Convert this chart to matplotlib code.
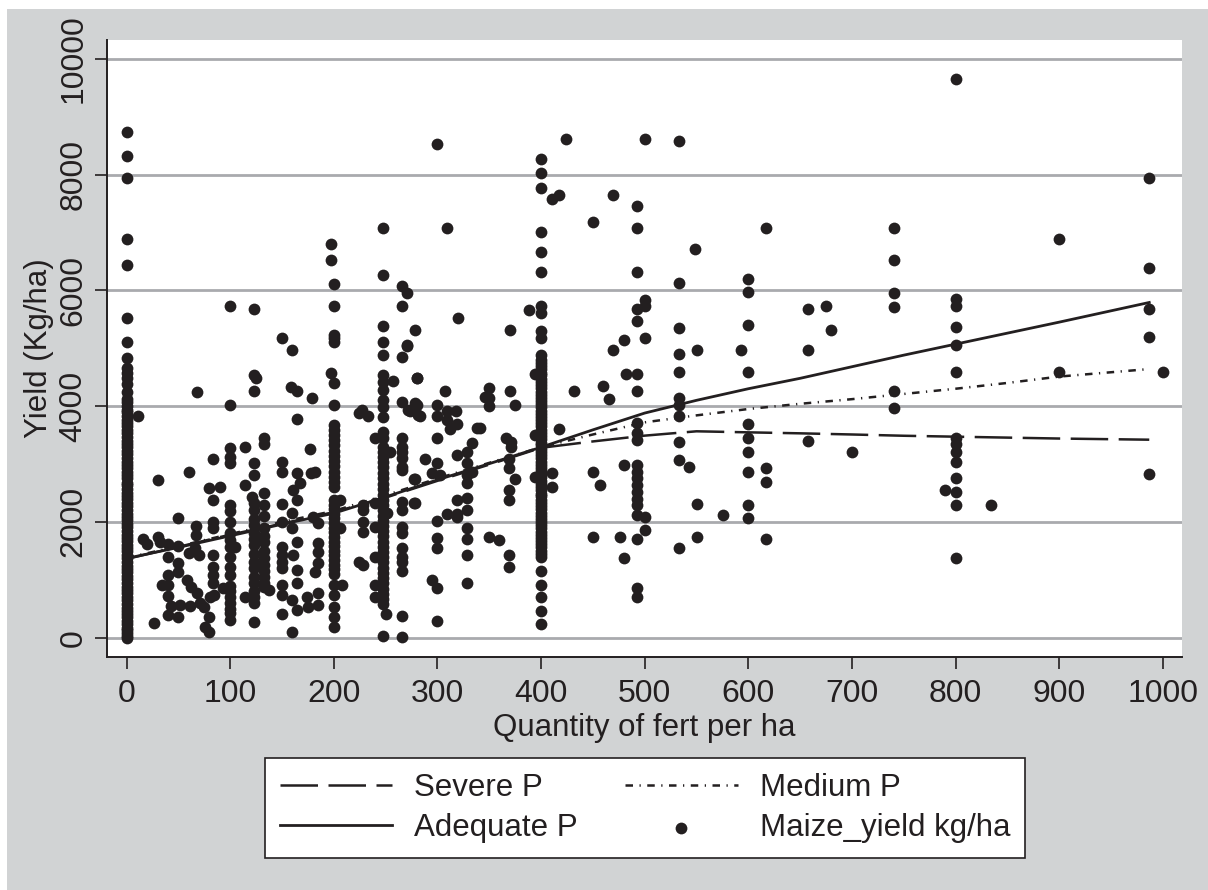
import matplotlib
matplotlib.use('Agg')
import matplotlib.pyplot as plt
from matplotlib.patches import Rectangle

plt.rcParams['font.family'] = ['Liberation Sans', 'DejaVu Sans']

INK = '#231f20'
GRID = '#a9aaae'
PANEL = '#d1d3d4'

# fitted curves
curve_x = [0, 50, 100, 150, 200, 250, 300, 350, 400, 450, 500, 550, 600, 650, 700, 750, 800, 850, 900, 987]
severe_p = [1360, 1570, 1780, 1970, 2170, 2420, 2710, 2990, 3280, 3390, 3490, 3565, 3547, 3530, 3510, 3488, 3472, 3456, 3440, 3420]
medium_p = [1380, 1580, 1790, 2000, 2190, 2460, 2750, 3020, 3290, 3510, 3720, 3840, 3950, 4040, 4120, 4210, 4300, 4400, 4510, 4640]
adequate_p = [1370, 1560, 1760, 1960, 2150, 2432, 2727, 3006, 3290, 3590, 3880, 4100, 4300, 4480, 4680, 4880, 5070, 5260, 5450, 5790]

# vertical stacks of observations at the common fertiliser rates
yield_at_0 = [0, 35, 80, 130, 170, 240, 290, 350, 410, 470, 520, 590, 650, 700, 770, 830, 880, 950, 1010, 1060,
              1130, 1190, 1240, 1310, 1370, 1420, 1490, 1550, 1600, 1670, 1730, 1780, 1850, 1910, 1960, 2030,
              2090, 2140, 2210, 2270, 2320, 2390, 2450, 2500, 2570, 2630, 2680, 2750, 2810, 2860, 2930, 2990,
              3040, 3110, 3170, 3220, 3290, 3350, 3400, 3470, 3530, 3580, 3650, 3710, 3760, 3830, 3890, 3940,
              4010, 4070, 4130, 4250, 4390, 4480, 4566, 4650, 4825, 5102, 5528, 6437, 6886, 7934, 8326, 8729]
yield_at_100 = [306, 420, 500, 600, 700, 800, 900, 1080, 1220, 1400, 1570, 1680, 1800, 2000, 2180, 2290,
                3012, 3116, 3271, 4020, 5735]
yield_at_123 = [277, 600, 700, 800, 950, 1050, 1200, 1300, 1450, 1600, 1700, 1800, 1950, 2050, 2200, 2320,
                2810, 3023, 4261, 4537, 5672]
yield_at_133 = [880, 950, 1050, 1150, 1250, 1380, 1500, 1650, 1750, 1900, 2100, 2292, 2494, 3346, 3455]
yield_at_200 = [191, 363, 536, 738, 910, 1100, 1180, 1260, 1340, 1420, 1500, 1580, 1660, 1740, 1820, 1900, 1980,
                2060, 2140, 2220, 2300, 2380, 2600, 2690, 2780, 2870, 2960, 3050, 3140, 3230, 3320, 3410, 3500,
                3590, 3670, 4020, 4405, 5113, 5170, 5228, 5735, 6103]
yield_at_247 = [35, 580, 670, 760, 850, 940, 1030, 1120, 1210, 1300, 1390, 1480, 1570, 1660, 1750, 1840, 1930,
                2020, 2110, 2200, 2290, 2380, 2470, 2560, 2650, 2750, 2850, 2950, 3030, 3120, 3210, 3300, 3444,
                3559, 3818, 3990, 4105, 4278, 4422, 4537, 4883, 5102, 5390, 6265, 7082]
yield_at_266 = [6, 380, 1152, 1300, 1400, 1544, 1803, 1918, 2206, 2350, 2897, 2950, 3100, 3200, 3300, 3455, 4077,
                4854, 5735, 6080]
yield_at_400 = [231, 462, 709, 910, 1152, 1400, 1450, 1500, 1560, 1610, 1670, 1720, 1780, 1830, 1890, 1940, 2000,
                2050, 2110, 2160, 2220, 2270, 2330, 2380, 2440, 2490, 2550, 2600, 2660, 2710, 2770, 2820, 2880,
                2930, 2990, 3040, 3100, 3150, 3210, 3260, 3320, 3370, 3430, 3480, 3540, 3590, 3650, 3700, 3760,
                3810, 3870, 3920, 3980, 4030, 4090, 4140, 4200, 4250, 4310, 4360, 4420, 4470, 4530, 4580, 4640,
                4690, 4750, 4800, 4883, 5182, 5300, 5600, 5735, 6322, 6662, 7007, 7762, 8032, 8274]
yield_at_493 = [709, 853, 1705, 2120, 2290, 2400, 2520, 2640, 2750, 2860, 2983, 3415, 3530, 3703, 4261, 4549,
                5470, 5672, 6322, 7082, 7456]
yield_at_800 = [1383, 2298, 2523, 2759, 3029, 3213, 3346, 3455, 4595, 5056, 5367, 5730, 5850, 9644]

# the scattered remainder, same order in both lists
other_x = [11, 16, 20, 30, 30, 32, 40, 50, 40, 26, 40, 50, 34, 40, 40, 40, 50, 50,
           43, 51, 58, 62, 68, 61, 71, 75, 80, 84, 79, 76, 79, 60, 83, 67, 67, 60, 70, 66, 50, 68,
           79, 90, 83, 83, 83, 83, 83, 83, 83, 93, 105, 114, 114, 121, 125, 114, 137,
           150, 150, 150, 150, 150, 150, 150, 150, 150, 150, 150, 150, 160, 159, 164, 179, 164, 177,
           164, 167, 161, 164, 160, 160, 164, 161, 164, 164, 160, 164, 160, 178, 182,
           185, 185, 185, 182, 174, 185, 175, 185, 180, 185, 197, 197, 197, 206, 206, 208,
           227, 224, 233, 228, 228, 228, 228, 224, 228, 240, 240, 240, 240, 240, 240, 254, 250, 251, 257,
           271, 272, 280, 278, 281, 278, 278, 271, 271, 278, 280, 280, 273, 283, 288, 277, 277,
           300, 300, 307, 300, 309, 318, 309, 319, 312, 300, 295, 302, 300, 309, 300, 300, 295, 300, 300, 300, 309, 320,
           319, 328, 333, 328, 333, 328, 328, 319, 328, 319, 319, 328, 328, 328, 328, 328,
           341, 338, 350, 346, 350, 350, 370, 375, 350, 359, 366, 371, 371, 369, 369, 375, 369, 369, 369, 369, 370,
           394, 394, 394, 388, 417, 411, 411, 417, 411, 424, 432, 460, 466, 450, 457, 450, 476, 480, 500, 500,
           482, 480, 450, 469, 469, 480, 500, 500, 500, 500, 533, 550, 533, 533, 533, 533, 533, 533,
           543, 550, 550, 533, 533, 533, 549, 533, 576, 593, 600, 600, 600, 600, 600, 600, 600, 600, 600, 600,
           617, 617, 617, 617, 658, 658, 658, 675, 680, 700,
           741, 741, 741, 741, 741, 741, 790, 834, 900, 900, 987, 987, 987, 987, 987, 1000]
other_y = [3830, 1705, 1613, 1734, 2724, 1660, 1618, 1584, 1400, 260, 392, 363, 910, 1083, 910, 720, 1285, 1141,
           553, 565, 997, 882, 767, 548, 594, 537, 709, 738, 363, 191, 105, 2868, 3081, 1930, 1774, 1457, 1429, 1544, 2073, 4250,
           2580, 2609, 2379, 2004, 1889, 1429, 1227, 1083, 940, 853, 1570, 3290, 2638, 2436, 4480, 709, 824,
           3040, 2868, 2304, 2004, 1570, 1430, 1300, 1200, 910, 740, 410, 5171, 4970, 4336, 4267, 4146, 3778, 3254,
           2839, 2666, 2551, 2379, 2148, 1889, 1659, 1429, 1170, 940, 651, 479, 93, 2839, 2868,
           1630, 1486, 1285, 1141, 709, 770, 536, 565, 2090, 1976, 4566, 6524, 6800, 2379, 1889, 910,
           3933, 3875, 3830, 2292, 2206, 2004, 1832, 1314, 1256, 3444, 2321, 1918, 1400, 910, 709, 3213, 410, 2148, 4434,
           5038, 3933, 4480, 4048, 3846, 5315, 2735, 5948, 5056, 2321, 4020, 4480, 3916, 3829, 3081, 2735, 2321,
           4020, 3829, 4261, 3455, 3916, 3916, 3760, 3686, 3599, 3012, 2839, 2810, 2016, 2131, 1716, 1544, 997, 864, 289, 8533, 7082, 5528,
           3156, 3213, 3357, 3023, 2868, 2666, 2407, 2379, 2206, 2090, 2131, 1889, 1705, 1429, 939, 2810,
           3616, 3628, 4319, 4163, 4135, 4002, 4267, 4020, 1734, 1688, 3455, 3386, 3288, 3081, 2925, 2735, 2551, 2379, 1429, 1227, 5315,
           4549, 3501, 2781, 5660, 3599, 2839, 2609, 7652, 7572, 8614, 4261, 4353, 4123, 2868, 2638, 1734, 1734, 1383, 2079, 1860,
           4549, 2983, 7180, 7652, 4969, 5142, 5833, 5735, 5177, 8614, 4900, 4969, 4595, 4135, 4020, 3829, 3386, 3069,
           2954, 2304, 1734, 1544, 8579, 6121, 6714, 5355, 2125, 4964, 6201, 5965, 5401, 4595, 3686, 3455, 3213, 2868, 2298, 2074,
           7082, 2926, 2695, 1705, 5672, 4964, 3403, 5729, 5320, 3213,
           7082, 6524, 5954, 5706, 4261, 3973, 2551, 2298, 6886, 4595, 7940, 6380, 5672, 5200, 2828, 4595]

x_ticks = [0, 100, 200, 300, 400, 500, 600, 700, 800, 900, 1000]
y_ticks = [0, 2000, 4000, 6000, 8000, 10000]

stacks = [(0, yield_at_0), (100, yield_at_100), (123, yield_at_123), (133, yield_at_133),
          (200, yield_at_200), (247, yield_at_247), (266, yield_at_266), (400, yield_at_400),
          (493, yield_at_493), (800, yield_at_800)]
n = min(len(other_x), len(other_y))
dots_x = list(other_x[:n])
dots_y = list(other_y[:n])
for rate, vals in stacks:
    dots_x += [rate] * len(vals)
    dots_y += vals

W, H = 1208, 890
fig = plt.figure(figsize=(W / 100, H / 100), dpi=100, facecolor='white')
# grey panel leaves a thin white strip on the top and left of the picture
fig.patches.append(Rectangle((7 / W, 0), 1 - 7 / W, 1 - 9 / H, transform=fig.transFigure,
                             facecolor=PANEL, edgecolor='none', zorder=-10))

ax = fig.add_axes([107.3 / W, 1 - 657 / H, (1182 - 107.3) / W, (657 - 40) / H])
ax.set_facecolor('white')
ax.set_xlim(-18.7, 1018.6)
ax.set_ylim(-333, 10323)

ax.yaxis.grid(True, color=GRID, lw=2.0, zorder=0)
ax.set_axisbelow(True)

dash_severe = (0, (15, 4.2))
dash_medium = (0, (3, 2.6, 0.5, 2.6))
ax.plot(curve_x, severe_p, color=INK, lw=1.8, ls=dash_severe, label='Severe P', zorder=3)
ax.plot(curve_x, adequate_p, color=INK, lw=2.0, label='Adequate P', zorder=3)
ax.plot(curve_x, medium_p, color=INK, lw=1.8, ls=dash_medium, label='Medium P', zorder=3)
ax.scatter(dots_x, dots_y, s=72, color=INK, linewidths=0, label='Maize_yield kg/ha', zorder=4, clip_on=False)

for side in ['top', 'right']:
    ax.spines[side].set_visible(False)
for side in ['left', 'bottom']:
    ax.spines[side].set_color(INK)
    ax.spines[side].set_linewidth(1.4)

ax.set_xticks(x_ticks)
ax.set_yticks(y_ticks)
ax.tick_params(axis='both', length=8.6, width=1.2, color=INK, labelcolor=INK, labelsize=23)
ax.tick_params(axis='x', pad=7)
ax.tick_params(axis='y', pad=5)
for lab in ax.get_yticklabels():
    lab.set_rotation(90)
    lab.set_va('center')

ax.set_xlabel('Quantity of fert per ha', fontsize=22.5, color=INK, labelpad=3)
ax.set_ylabel('Yield (Kg/ha)', fontsize=22.5, color=INK, labelpad=3)

leg = fig.legend(loc='center', bbox_to_anchor=(645 / W, 1 - 808 / H), ncols=2, fontsize=22.5,
                 handlelength=3.6, handletextpad=0.72, columnspacing=1.5, labelspacing=0.33,
                 borderpad=0.47, scatterpoints=1, fancybox=False, framealpha=1,
                 facecolor='white', edgecolor=INK, labelcolor=INK)
leg.get_frame().set_linewidth(1.2)

fig.savefig('out.png', dpi=100, facecolor=fig.get_facecolor())
